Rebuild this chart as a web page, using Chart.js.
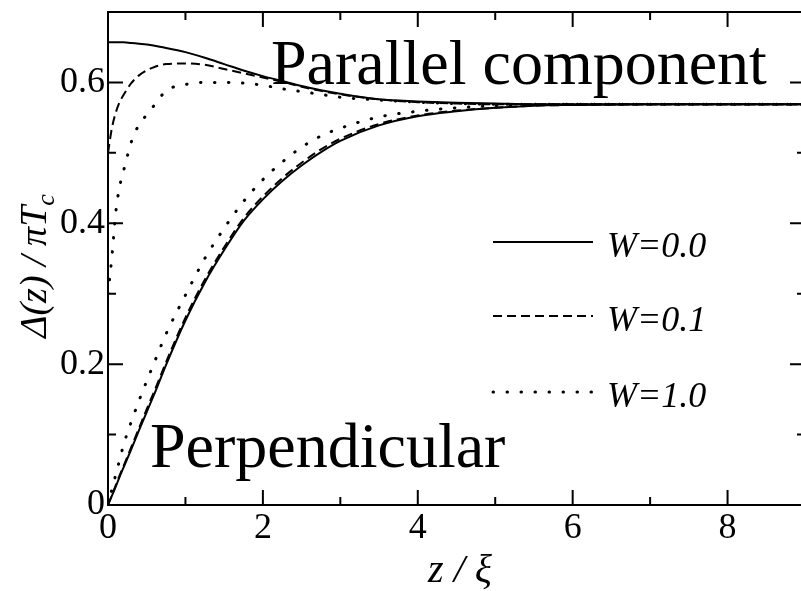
<!DOCTYPE html>
<html>
<head>
<meta charset="utf-8">
<title>Order parameter profile</title>
<script src="https://cdn.jsdelivr.net/npm/chart.js@4.4.1/dist/chart.umd.min.js"></script>
<style>
  html, body { margin: 0; padding: 0; background: #fff; overflow: hidden; }
  #wrap { width: 812px; height: 591px; }
</style>
</head>
<body>
<div id="wrap"><canvas id="gap" width="812" height="591"></canvas></div>
<script>
// z / xi sample points shared by every curve
const zValues = [0, 0.05, 0.1, 0.15, 0.2, 0.3, 0.4, 0.5, 0.6, 0.75, 1, 1.25, 1.5, 1.75, 2, 2.25, 2.5, 2.75, 3, 3.5, 4, 4.5, 5, 5.5, 6, 7, 8, 9];

// parallel component, Delta(z) / pi Tc
const parallelW00 = [0.657, 0.657, 0.657, 0.657, 0.657, 0.656, 0.655, 0.654, 0.652, 0.649, 0.643, 0.635, 0.626, 0.617, 0.609, 0.602, 0.595, 0.589, 0.584, 0.576, 0.573, 0.571, 0.570, 0.569, 0.569, 0.569, 0.569, 0.569];
const parallelW01 = [0.50, 0.535, 0.557, 0.572, 0.582, 0.599, 0.61, 0.617, 0.622, 0.626, 0.627, 0.625, 0.619, 0.613, 0.607, 0.601, 0.594, 0.588, 0.583, 0.576, 0.572, 0.570, 0.569, 0.569, 0.569, 0.569, 0.569, 0.569];
const parallelW10 = [0.30, 0.352, 0.415, 0.452, 0.474, 0.515, 0.54, 0.554, 0.568, 0.588, 0.597, 0.600, 0.600, 0.599, 0.596, 0.591, 0.587, 0.583, 0.579, 0.575, 0.572, 0.570, 0.569, 0.569, 0.569, 0.569, 0.569, 0.569];

// perpendicular component
const perpW00 = [0, 0.013, 0.026, 0.04, 0.053, 0.079, 0.106, 0.132, 0.158, 0.199, 0.262, 0.316, 0.362, 0.403, 0.434, 0.46, 0.482, 0.501, 0.517, 0.539, 0.552, 0.559, 0.564, 0.567, 0.568, 0.569, 0.569, 0.569];
const perpW01 = [0, 0.014, 0.028, 0.042, 0.055, 0.082, 0.109, 0.136, 0.162, 0.203, 0.266, 0.320, 0.366, 0.407, 0.438, 0.464, 0.486, 0.505, 0.520, 0.541, 0.553, 0.560, 0.564, 0.567, 0.568, 0.569, 0.569, 0.569];
const perpW10 = [0, 0.022, 0.043, 0.064, 0.085, 0.118, 0.148, 0.176, 0.203, 0.243, 0.298, 0.350, 0.393, 0.431, 0.462, 0.487, 0.508, 0.524, 0.535, 0.551, 0.559, 0.564, 0.567, 0.568, 0.569, 0.569, 0.569, 0.569];

const legendLabels = ['W=0.0', 'W=0.1', 'W=1.0'];
const xTickLabels = ['0', '', '2', '', '4', '', '6', '', '8', ''];
const yTickLabels = ['0', '', '0.2', '', '0.4', '', '0.6', ''];

const SERIF = "'Liberation Serif', 'DejaVu Serif', serif";
const INK = '#000';

// line styles per W value
const styles = [
    { dash: [], width: 2, cap: 'butt' },
    { dash: [9, 5], width: 2, cap: 'butt' },
    { dash: [0.5, 13.5], width: 3, cap: 'round' }
];

function toPoints(ys) {
    return zValues.map((z, i) => ({ x: z, y: ys[i] }));
}

function makeSet(label, ys, s) {
    return {
        label: label,
        data: toPoints(ys),
        borderColor: INK,
        borderWidth: s.width,
        borderDash: s.dash,
        borderCapStyle: s.cap,
        pointRadius: 0,
        fill: false,
        cubicInterpolationMode: 'monotone'
    };
}

const datasets = [
    makeSet(legendLabels[0], parallelW00, styles[0]),
    makeSet(legendLabels[1], parallelW01, styles[1]),
    makeSet(legendLabels[2], parallelW10, styles[2]),
    makeSet(legendLabels[0], perpW00, styles[0]),
    makeSet(legendLabels[1], perpW01, styles[1]),
    makeSet(legendLabels[2], perpW10, styles[2])
];

// frame, inward ticks, legend and text labels
const decorations = {
    id: 'decorations',
    afterDraw(chart) {
        const ctx = chart.ctx;
        const { left, right, top, bottom } = chart.chartArea;
        const xs = chart.scales.x, ys = chart.scales.y;

        ctx.save();
        ctx.strokeStyle = INK;
        ctx.fillStyle = INK;
        ctx.lineWidth = 2;
        ctx.setLineDash([]);
        ctx.strokeRect(left, top, right - left, bottom - top);

        // x ticks on bottom and top
        xs.ticks.forEach(t => {
            const px = xs.getPixelForValue(t.value);
            const len = Math.round(t.value) % 2 === 0 ? 15 : 8;
            ctx.beginPath();
            ctx.moveTo(px, bottom); ctx.lineTo(px, bottom - len);
            ctx.moveTo(px, top); ctx.lineTo(px, top + len);
            ctx.stroke();
        });
        // y ticks on left and right
        ys.ticks.forEach(t => {
            const py = ys.getPixelForValue(t.value);
            const len = Math.round(t.value * 10) % 2 === 0 ? 15 : 8;
            ctx.beginPath();
            ctx.moveTo(left, py); ctx.lineTo(left + len, py);
            ctx.moveTo(right, py); ctx.lineTo(right - len, py);
            ctx.stroke();
        });

        // legend
        const rows = [242, 316, 392];
        rows.forEach((y, i) => {
            const s = styles[i];
            ctx.lineWidth = s.width;
            ctx.lineCap = s.cap;
            ctx.setLineDash(s.dash);
            ctx.beginPath();
            ctx.moveTo(493, y);
            ctx.lineTo(593, y);
            ctx.stroke();
        });
        ctx.setLineDash([]);
        ctx.lineCap = 'butt';
        ctx.font = 'italic 36px ' + SERIF;
        ctx.textAlign = 'left';
        ctx.textBaseline = 'alphabetic';
        rows.forEach((y, i) => ctx.fillText(legendLabels[i], 607, y + 15));

        // component labels
        ctx.font = '64px ' + SERIF;
        ctx.fillText('Parallel component', 271, 84);
        ctx.fillText('Perpendicular', 150, 467);

        // axis titles
        ctx.font = 'italic 40px ' + SERIF;
        ctx.textAlign = 'center';
        ctx.fillText('z / \u03BE', 460, 582);

        ctx.translate(46, 266);
        ctx.rotate(-Math.PI / 2);
        ctx.textAlign = 'left';
        const main = '\u0394(z) / \u03C0T';
        ctx.font = 'italic 38px ' + SERIF;
        const w1 = ctx.measureText(main).width;
        ctx.font = 'italic 26px ' + SERIF;
        const w2 = ctx.measureText('c').width;
        const x0 = -(w1 + w2) / 2;
        ctx.font = 'italic 38px ' + SERIF;
        ctx.fillText(main, x0, 0);
        ctx.font = 'italic 26px ' + SERIF;
        ctx.fillText('c', x0 + w1, 8);
        ctx.restore();
    }
};

new Chart(document.getElementById('gap'), {
    type: 'line',
    data: { datasets: datasets },
    options: {
        responsive: false,
        animation: false,
        layout: { padding: { top: 12, right: 7, left: 0, bottom: 0 } },
        plugins: {
            legend: { display: false },
            tooltip: { enabled: false }
        },
        scales: {
            x: {
                type: 'linear',
                min: 0,
                max: 9,
                border: { display: false },
                grid: { display: false, drawTicks: false },
                ticks: {
                    stepSize: 1,
                    autoSkip: false,
                    maxRotation: 0,
                    padding: 2,
                    color: INK,
                    font: { family: SERIF, size: 36 },
                    callback: (v) => xTickLabels[Math.round(v)] ?? ''
                },
                afterFit: (scale) => { scale.height = 86; }
            },
            y: {
                min: 0,
                max: 0.7,
                border: { display: false },
                grid: { display: false, drawTicks: false },
                ticks: {
                    stepSize: 0.1,
                    autoSkip: false,
                    padding: 3,
                    color: INK,
                    font: { family: SERIF, size: 36, lineHeight: 0.6 },
                    callback: (v) => yTickLabels[Math.round(v * 10)] ?? ''
                },
                afterFit: (scale) => {
                    scale.width = 108;
                    scale.paddingTop = 0;
                    scale.paddingBottom = 0;
                }
            }
        }
    },
    plugins: [decorations]
});
</script>
</body>
</html>
